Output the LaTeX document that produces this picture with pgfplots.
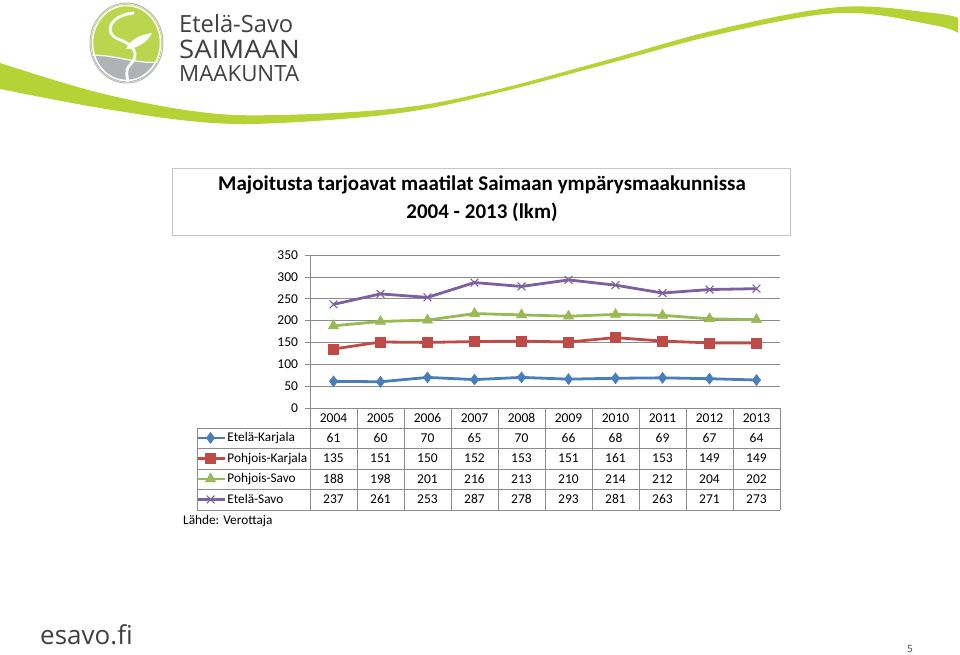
\documentclass[border=0pt]{standalone}
\usepackage{fontspec}
\setmainfont{Carlito}
\newfontfamily\logofont{Open Sans}
\usepackage{pgfplots}
\usepackage{pgfplotstable}
\pgfplotsset{compat=1.18}
\definecolor{cblue}{HTML}{4A7EBB}
\definecolor{cred}{HTML}{BE4B48}
\definecolor{cgreen}{HTML}{98B954}
\definecolor{cpurple}{HTML}{7D60A0}
\definecolor{lime}{HTML}{B5D334}
\definecolor{logolime}{HTML}{BBD64E}
\definecolor{logogray}{HTML}{B0B3B6}
\definecolor{txtgray}{HTML}{404040}
\definecolor{gridc}{HTML}{8C8C8C}

\pgfplotstableread{
x year EK PK PS ES
0 2004 61 135 188 237
1 2005 60 151 198 261
2 2006 70 150 201 253
3 2007 65 152 216 287
4 2008 70 153 213 278
5 2009 66 151 210 293
6 2010 68 161 214 281
7 2011 69 153 212 263
8 2012 67 149 204 271
9 2013 64 149 202 273
}\datatable

\begin{document}
\begin{tikzpicture}[x=1pt,y=1pt]
\path (0,0) rectangle (960,655);

% swoosh
\fill[lime] plot[smooth, tension=0.6] coordinates {(0,592) (100,562) (200,543) (280,540) (400,547) (493,564.5) (607,595) (720,626) (840,648) (933,642) (958,637)}
  -- plot[smooth, tension=0.6] coordinates {(958,622) (933,630) (840,642) (720,621) (607,591) (493,561) (400,542) (280,532) (200,533) (100,547) (0,566)} -- cycle;

% logo
\begin{scope}
\clip (126.5,612) ellipse (35.5 and 39);
\fill[logolime] (88,570) rectangle (166,655);
\fill[logogray] (88,570) -- (88,599) .. controls (110,603) and (140,588) .. (166,594) -- (166,570) -- cycle;
\draw[white, line width=1.2] (88,599) .. controls (110,603) and (140,588) .. (166,594);
\draw[white, line width=2.8] (134,642) .. controls (110,640) and (103,622) .. (118,616)
  .. controls (135,610) and (140,600) .. (130,590) .. controls (124,584) and (128,578) .. (128,572);
\fill[white] (126,606) .. controls (132,618) and (142,620) .. (152,622) .. controls (148,614) and (138,606) .. (126,606);
\end{scope}
\draw[white, line width=1.5] (126.5,612) ellipse (34 and 37.5);
\draw[gray!55, line width=1] (126.5,612) ellipse (36.5 and 40);
\node[anchor=base west, inner sep=0, text=txtgray, font=\logofont\fontsize{23.7}{23.7}\selectfont] at (179,622) {Etelä-Savo};
\node[anchor=base west, inner sep=0, text=txtgray, xscale=1.08, font=\logofont\fontsize{25.5}{25.5}\selectfont] at (179,596) {SAIMAAN};
\node[anchor=base west, inner sep=0, text=txtgray, font=\logofont\fontsize{22.3}{22.3}\selectfont] at (179,573) {MAAKUNTA};

% title box
\draw[gray!45, line width=0.8] (172,420) rectangle (790,487);
\node[font=\bfseries\fontsize{21}{21}\selectfont, inner sep=0] at (482,470) {Majoitusta tarjoavat maatilat Saimaan ympärysmaakunnissa};
\node[font=\bfseries\fontsize{21}{21}\selectfont, inner sep=0] at (482,443) {2004 - 2013 (lkm)};

\begin{axis}[
  at={(310pt,247pt)}, anchor=south west,
  width=470pt, height=153pt, scale only axis,
  xmin=-0.5, xmax=9.5, ymin=0, ymax=350,
  ytick={0,50,...,350}, xtick=\empty,
  axis x line=none, axis y line*=left,
  y axis line style={gridc, -},
  ymajorgrids, grid style={gridc, line width=0.6pt},
  tick align=outside, major tick length=5pt,
  every tick/.style={gridc, line width=0.6pt},
  yticklabel style={font=\fontsize{13.5}{13.5}\selectfont, xshift=-3.5pt, /pgf/number format/assume math mode=true},
  clip=false,
  legend style={at={(-0.2511,-0.1144)}, anchor=north west, draw=none, fill=none,
    font=\fontsize{13.3}{13.3}\selectfont, row sep=0pt,
    nodes={minimum height=20.5pt, inner ysep=0pt, inner xsep=1.5pt}},
  legend cell align=left,
  legend image code/.code={\draw[mark repeat=2, mark phase=2] plot coordinates {(0pt,0pt) (14pt,0pt) (28pt,0pt)};},
  every axis plot/.append style={line width=2.8pt},
]
\addplot[cblue, mark=diamond*, mark size=5.5pt, mark options={line width=0.5pt}] table[x=x, y=EK] {\datatable};
\addlegendentry{Etelä-Karjala}
\addplot[cred, mark=square*, mark size=5pt, mark options={line width=0.5pt}] table[x=x, y=PK] {\datatable};
\addlegendentry{Pohjois-Karjala}
\addplot[cgreen, mark=triangle*, mark size=6pt, mark options={line width=0.5pt}] table[x=x, y=PS] {\datatable};
\addlegendentry{Pohjois-Savo}
\addplot[cpurple, mark=x, mark size=5.5pt, mark options={line width=1.1pt}] table[x=x, y=ES] {\datatable};
\addlegendentry{Etelä-Savo}
\end{axis}

% data table
\begin{scope}[gridc, line width=0.6pt]
\draw (310,247) -- (780,247);
\foreach \k in {0,...,10} \draw ({310+47*\k},247) -- ({310+47*\k},145);
\draw (197,227) -- (197,145);
\foreach \yy in {227,206.5,186,165.5,145} \draw (197,\yy) -- (780,\yy);
\end{scope}
\foreach \i in {0,...,9} {
  \pgfplotstablegetelem{\i}{year}\of\datatable
  \node[anchor=base, inner sep=0, font=\fontsize{13.5}{13.5}\selectfont] at ({333.5+47*\i},232.8) {\pgfplotsretval};
  \pgfplotstablegetelem{\i}{EK}\of\datatable
  \node[anchor=base, inner sep=0, font=\fontsize{13.5}{13.5}\selectfont] at ({333.5+47*\i},212.5) {\pgfplotsretval};
  \pgfplotstablegetelem{\i}{PK}\of\datatable
  \node[anchor=base, inner sep=0, font=\fontsize{13.5}{13.5}\selectfont] at ({333.5+47*\i},192) {\pgfplotsretval};
  \pgfplotstablegetelem{\i}{PS}\of\datatable
  \node[anchor=base, inner sep=0, font=\fontsize{13.5}{13.5}\selectfont] at ({333.5+47*\i},171.5) {\pgfplotsretval};
  \pgfplotstablegetelem{\i}{ES}\of\datatable
  \node[anchor=base, inner sep=0, font=\fontsize{13.5}{13.5}\selectfont] at ({333.5+47*\i},151) {\pgfplotsretval};
}
\node[anchor=west, inner sep=0, font=\fontsize{13.3}{13.3}\selectfont] at (183,134) {Lähde: Verottaja};

% footer
\node[anchor=base west, inner sep=0, text=txtgray, font=\logofont\fontsize{26}{26}\selectfont] at (40,10) {esavo.fi};
\node[anchor=base, inner sep=0, text=txtgray, font=\logofont\fontsize{10}{10}\selectfont] at (910,2) {5};
\end{tikzpicture}
\end{document}
